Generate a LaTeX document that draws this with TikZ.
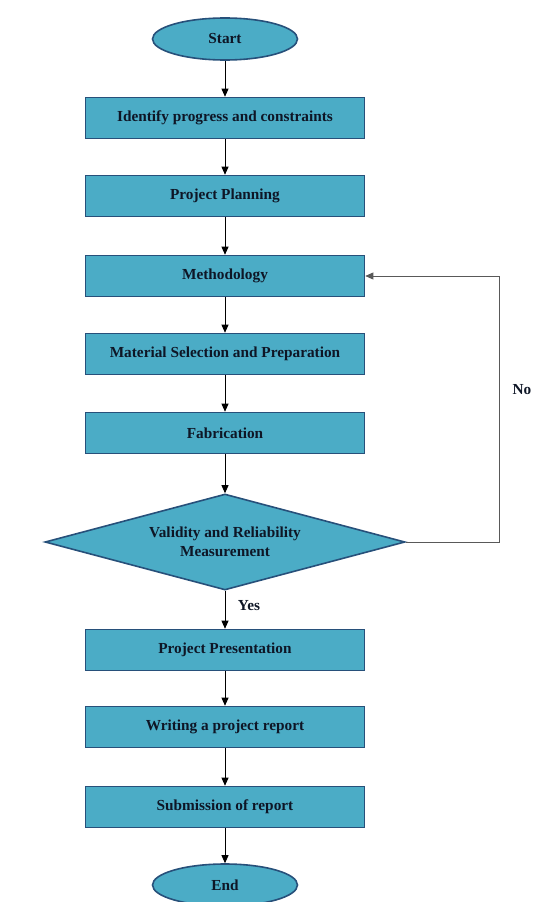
\documentclass[tikz,border=0pt]{standalone}
\usepackage{fontspec}
\setmainfont{Liberation Serif}
\usepackage{xcolor}
\usetikzlibrary{arrows.meta,shapes.geometric}

\definecolor{boxfill}{HTML}{4BACC6}
\definecolor{boxline}{HTML}{27507A}
\definecolor{boxtext}{HTML}{0E1626}

\tikzset{
    stepbox/.style={draw=boxline, line width=1.6pt, fill=boxfill, rectangle,
        minimum width=279pt, minimum height=41pt, inner sep=0pt,
        text=boxtext, font=\fontsize{15.3}{18}\selectfont\bfseries},
    terminal/.style={stepbox, ellipse, minimum width=145pt, minimum height=42pt},
    decision/.style={stepbox, diamond, aspect=3.75, minimum width=360pt,
        minimum height=96pt, align=center,
        font=\fontsize{15.3}{19}\selectfont\bfseries},
    arr/.style={-{Triangle[length=8pt,width=7pt]}, line width=0.8pt},
    label/.style={font=\fontsize{15.3}{18}\selectfont\bfseries, text=boxtext}
}

\begin{document}
\begin{tikzpicture}[x=1pt, y=-1pt]
    \useasboundingbox (0,0) rectangle (551,902);

    % Steps
    \node[terminal] (start) at (225,39) {Start};
    \node[stepbox] (identify) at (225,118) {Identify progress and constraints};
    \node[stepbox] (plan) at (225,196) {Project Planning};
    \node[stepbox] (method) at (225,276) {Methodology};
    \node[stepbox] (material) at (225,354) {Material Selection and Preparation};
    \node[stepbox] (fab) at (225,433) {Fabrication};
    \node[decision] (check) at (225,542) {Validity and Reliability\\Measurement};
    \node[stepbox] (present) at (225,650) {Project Presentation};
    \node[stepbox] (report) at (225,727) {Writing a project report};
    \node[stepbox] (submit) at (225,807) {Submission of report};
    \node[terminal] (finish) at (225,885) {End};

    % Main flow
    \draw[arr] (start) -- (identify);
    \draw[arr] (identify) -- (plan);
    \draw[arr] (plan) -- (method);
    \draw[arr] (method) -- (material);
    \draw[arr] (material) -- (fab);
    \draw[arr] (fab) -- (check);
    \draw[arr] (check) -- (present);
    \draw[arr] (present) -- (report);
    \draw[arr] (report) -- (submit);
    \draw[arr] (submit) -- (finish);

    % Loop back when not valid
    \coordinate (loop) at (499,0);
    \draw[arr, draw=black!65] (check.east) -- (check.east -| loop) |- (method.east);

    % Answers
    \node[label] (no) at (522,390) {No};
    \node[label] (yes) at (249,606) {Yes};
\end{tikzpicture}
\end{document}
